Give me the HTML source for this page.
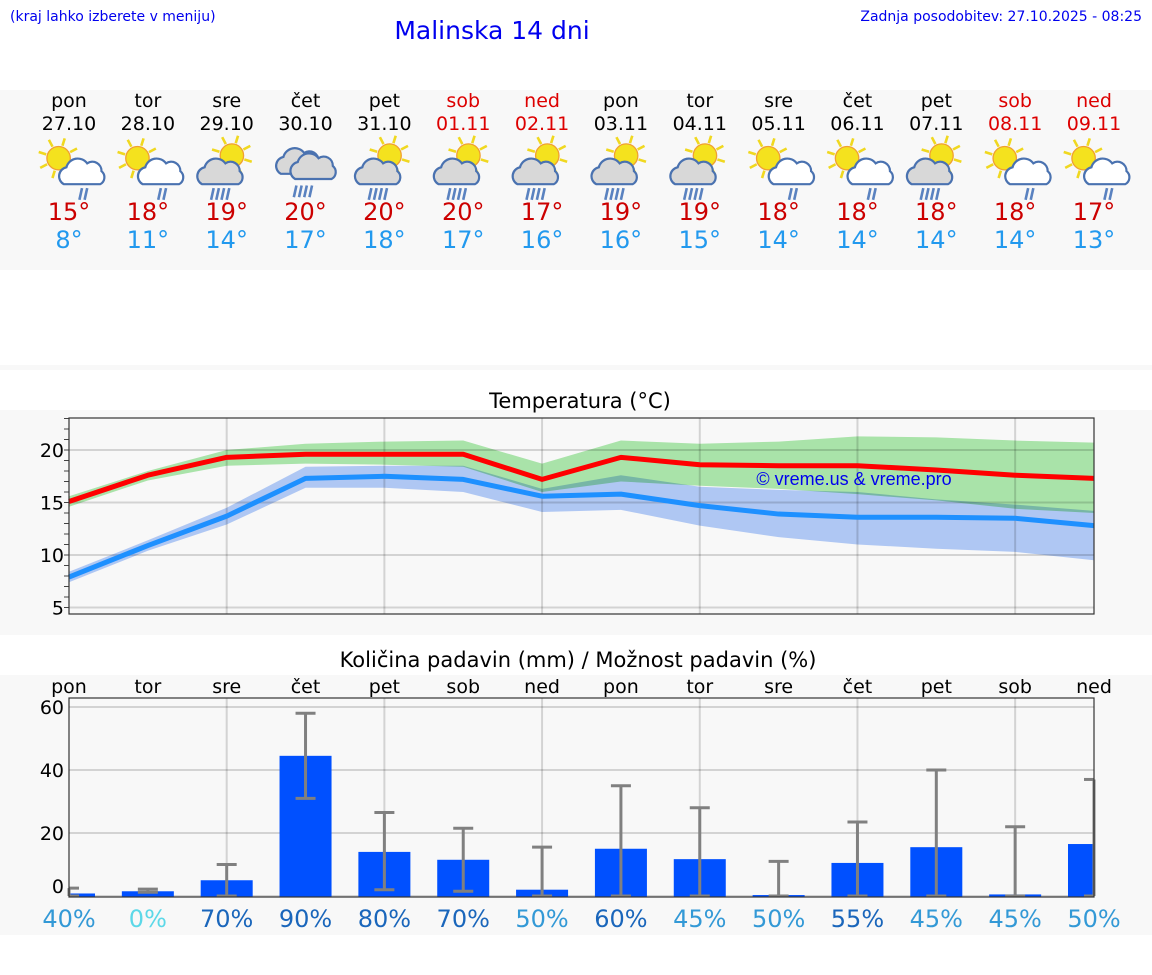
<!DOCTYPE html>
<html><head><meta charset="utf-8"><style>
body{margin:0;width:1152px;height:975px;background:#fff;overflow:hidden;font-family:"DejaVu Sans","Liberation Sans",sans-serif}
svg{display:block}
</style></head><body>
<svg id="s" width="1152" height="975" xmlns="http://www.w3.org/2000/svg">
<rect x="0" y="90" width="1152" height="180" fill="#f8f8f8"/>
<rect x="0" y="365" width="1152" height="5" fill="#f8f8f8"/>
<rect x="0" y="410" width="1152" height="225" fill="#f8f8f8"/>
<rect x="0" y="675" width="1152" height="260" fill="#f8f8f8"/>
<text x="10" y="21" font-size="14" fill="#0000ee">(kraj lahko izberete v meniju)</text>
<text x="492" y="39" font-size="25" fill="#0000ee" text-anchor="middle">Malinska 14 dni</text>
<text x="1142" y="21" font-size="14" fill="#0000ee" text-anchor="end">Zadnja posodobitev: 27.10.2025 - 08:25</text>
<text x="580" y="408" font-size="21" text-anchor="middle">Temperatura (°C)</text>
<text x="578" y="667" font-size="21" text-anchor="middle">Količina padavin (mm) / Možnost padavin (%)</text>
<g id="days"></g>
<g id="temp"></g>
<g id="prec"></g>
</svg>
<script>
const dayNames=["pon","tor","sre","čet","pet","sob","ned","pon","tor","sre","čet","pet","sob","ned"];
const dates=["27.10","28.10","29.10","30.10","31.10","01.11","02.11","03.11","04.11","05.11","06.11","07.11","08.11","09.11"];
const iconTypes=["A","A","B","C","B","B","B","B","B","A","A","B","A","A"];
const maxT=[15,18,19,20,20,20,17,19,19,18,18,18,18,17];
const minT=[8,11,14,17,18,17,16,16,15,14,14,14,14,13];
const redLine=[15.1,17.6,19.3,19.6,19.6,19.6,17.2,19.3,18.6,18.5,18.5,18.1,17.6,17.3];
const blueLine=[7.9,10.9,13.7,17.3,17.5,17.2,15.6,15.8,14.7,13.9,13.6,13.6,13.5,12.8];
const greenLo=[14.6,17.1,18.5,18.7,18.6,18.4,16.0,17.0,16.6,16.3,15.8,15.2,14.4,14.0];
const greenHi=[15.6,18.0,20.0,20.6,20.8,20.9,18.7,20.9,20.6,20.8,21.3,21.2,20.9,20.7];
const blueLo=[7.4,10.4,12.9,16.4,16.4,16.0,14.1,14.3,12.8,11.7,11.0,10.6,10.3,9.5];
const blueHi=[8.4,11.4,14.5,18.4,18.5,18.5,16.3,17.6,16.5,16.2,16.0,15.3,14.8,14.2];
const tempTicks=[5,10,15,20];
const precip=[0.8,1.5,5,44.5,14,11.5,2,15,11.7,0.3,10.5,15.5,0.5,16.5];
const errLo=[0,1.2,0,31,2,1.5,0,0,0,0,0,0,0,0];
const errHi=[2.5,2.2,10,58,26.5,21.5,15.5,35,28,11,23.5,40,22,37];
const chance=[40,0,70,90,80,70,50,60,45,50,55,45,45,50];
const precTicks=[0,20,40,60];
const NS="http://www.w3.org/2000/svg";
function mk(tag,attrs,parent,name){const e=document.createElementNS(NS,tag);for(const k in attrs)e.setAttribute(k,attrs[k]);parent.appendChild(e);


return e;}
const X0=69,X1=1094;
const xd=i=>X0+i*(X1-X0)/13;
const dg=document.getElementById('days');
dayNames.forEach((d,i)=>{
 const x=xd(i),weekend=(i%7>=5),col=weekend?"#dd0000":"#000";
 let t=mk('text',{x:x,y:107,'font-size':19,'text-anchor':'middle',fill:col},dg,'day-name');t.textContent=d;
 t=mk('text',{x:x,y:130,'font-size':19,'text-anchor':'middle',fill:col},dg,'day-date');t.textContent=dates[i];
 t=mk('text',{x:x,y:220,'font-size':24,'text-anchor':'middle',fill:"#cc0000"},dg,'max-temp');t.textContent=maxT[i]+"°";
 t=mk('text',{x:x,y:248,'font-size':24,'text-anchor':'middle',fill:"#2299ee"},dg,'min-temp');t.textContent=minT[i]+"°";
 const g=mk('g',{transform:`translate(${x},166) scale(1.3)`},dg,'weather-icon');
 const sun=(cx,cy)=>{for(let a=0;a<8;a++){const an=a*Math.PI/4+0.3;mk('line',{x1:cx+Math.cos(an)*10,y1:cy+Math.sin(an)*10,x2:cx+Math.cos(an)*16,y2:cy+Math.sin(an)*16,stroke:"#f0d820",'stroke-width':2},g,'sun-ray');}
  mk('circle',{cx:cx,cy:cy,r:9,fill:"#f4e21e",stroke:"#f0a030",'stroke-width':1},g,'sun');};
 const cloud=(cx,cy,fill)=>{mk('path',{d:`M${cx-14},${cy+8} a7,7 0 0 1 2,-13 a9,9 0 0 1 16,-3 a7,7 0 0 1 11,6 a6,6 0 0 1 -1,10 z`,fill:fill,stroke:"#4a72b0",'stroke-width':1.7},g,'cloud');};
 const rain=(cx,cy,n)=>{for(let k=0;k<n;k++)mk('line',{x1:cx+k*4,y1:cy,x2:cx+k*4-2,y2:cy+9,stroke:"#5a82c0",'stroke-width':2},g,'rain-drop');};
 if(iconTypes[i]==="A"){sun(-8,-6);cloud(10,6,"#fff");rain(10,17,2);}
 else if(iconTypes[i]==="B"){sun(4,-8);cloud(-5,6,"#d8d8d8");rain(-10,17,4);}
 else {cloud(-5,-2,"#d8d8d8");cloud(6,2,"#d8d8d8");rain(-7,15,4);}
});
const tg=document.getElementById('temp');
const TY0=418,TY1=614;
const yt=v=>450+(20-v)*10.5;
const area=(lo,hi)=>{let d="M"+lo.map((v,i)=>xd(i)+","+yt(hi[i])).join(" L");for(let i=lo.length-1;i>=0;i--)d+=" L"+xd(i)+","+yt(lo[i]);return d+"Z";};
mk('rect',{x:X0,y:TY0,width:X1-X0,height:TY1-TY0,fill:"#f8f8f8"},tg,'temp-plot-area');
mk('path',{d:area(blueLo,blueHi),fill:"#afc7f3"},tg,'min-temp-range');
mk('path',{d:area(greenLo,greenHi),fill:"#aeeaae",style:"mix-blend-mode:multiply"},tg,'max-temp-range');
tempTicks.forEach(v=>{mk('line',{x1:X0,x2:X1,y1:yt(v),y2:yt(v),stroke:"#000",'stroke-opacity':0.15,'stroke-width':2},tg,'temp-grid-line');
 const t=mk('text',{x:X0-5,y:yt(v)+7,'font-size':19,'text-anchor':'end'},tg,'temp-tick-label');t.textContent=v;});
for(let v=5;v<=23;v++)mk('line',{x1:X0-5,x2:X0,y1:yt(v),y2:yt(v),stroke:"#444"},tg,'temp-minor-tick');
for(let i=2;i<13;i+=2)mk('line',{x1:xd(i),x2:xd(i),y1:TY0,y2:TY1,stroke:"#000",'stroke-opacity':0.15,'stroke-width':2},tg,'temp-vgrid-line');
const line=(arr,col,name)=>mk('polyline',{points:arr.map((v,i)=>xd(i)+","+yt(v)).join(" "),fill:"none",stroke:col,'stroke-width':5,'stroke-linejoin':'round'},tg,name);
line(blueLine,"#1e90ff",'min-temp-line');line(redLine,"#ff0000",'max-temp-line');
let wm=mk('text',{x:854,y:485,'font-size':18,'text-anchor':'middle',fill:"#0000ee",'font-family':'Liberation Sans, sans-serif'},tg,'watermark');wm.textContent="© vreme.us & vreme.pro";
mk('rect',{x:X0,y:TY0,width:X1-X0,height:TY1-TY0,fill:"none",stroke:"#333",'stroke-width':1.2},tg,'temp-plot-border');
const pg=document.getElementById('prec');
const PY0=698,PY1=897;
const yp=v=>Math.max(PY0,896-v*3.15);
mk('rect',{x:X0,y:PY0,width:X1-X0,height:PY1-PY0,fill:"#f8f8f8"},pg,'precip-plot-area');
precTicks.forEach(v=>{mk('line',{x1:X0,x2:X1,y1:yp(v),y2:yp(v),stroke:"#000",'stroke-opacity':0.15,'stroke-width':2},pg,'precip-grid-line');
 const t=mk('text',{x:X0-5,y:v===0?yp(v)-3:yp(v)+7,'font-size':19,'text-anchor':'end'},pg,'precip-tick-label');t.textContent=v;});
for(let i=2;i<13;i+=2)mk('line',{x1:xd(i),x2:xd(i),y1:PY0,y2:PY1,stroke:"#000",'stroke-opacity':0.15,'stroke-width':2},pg,'precip-vgrid-line');
dayNames.forEach((d,i)=>{const x=xd(i);
 let t=mk('text',{x:x,y:693,'font-size':19,'text-anchor':'middle'},pg,'precip-day-label');t.textContent=d;
 const bx=Math.max(X0,x-26),bw=Math.min(X1,x+26)-bx;
 mk('rect',{x:bx,y:yp(precip[i]),width:bw,height:PY1-yp(precip[i]),fill:"#0050ff"},pg,'precip-bar');
 const cl=Math.max(X0,x-10),cr=Math.min(X1,x+10);
 mk('line',{x1:x,x2:x,y1:yp(errLo[i]),y2:yp(errHi[i]),stroke:"#808080",'stroke-width':3},pg,'error-bar');
 mk('line',{x1:cl,x2:cr,y1:yp(errHi[i]),y2:yp(errHi[i]),stroke:"#808080",'stroke-width':3},pg,'error-cap-high');
 mk('line',{x1:cl,x2:cr,y1:yp(errLo[i]),y2:yp(errLo[i]),stroke:"#808080",'stroke-width':3},pg,'error-cap-low');
 const c=chance[i],col=c===0?"#5cd8e8":(c>=55?"#1a66bb":"#3399d6");
 t=mk('text',{x:x,y:927,'font-size':24,'text-anchor':'middle',fill:col},pg,'precip-chance');t.textContent=c+"%";
});
mk('rect',{x:X0,y:PY0,width:X1-X0,height:PY1-PY0,fill:"none",stroke:"#333",'stroke-width':1.2},pg,'precip-plot-border');
</script>
</body></html>
